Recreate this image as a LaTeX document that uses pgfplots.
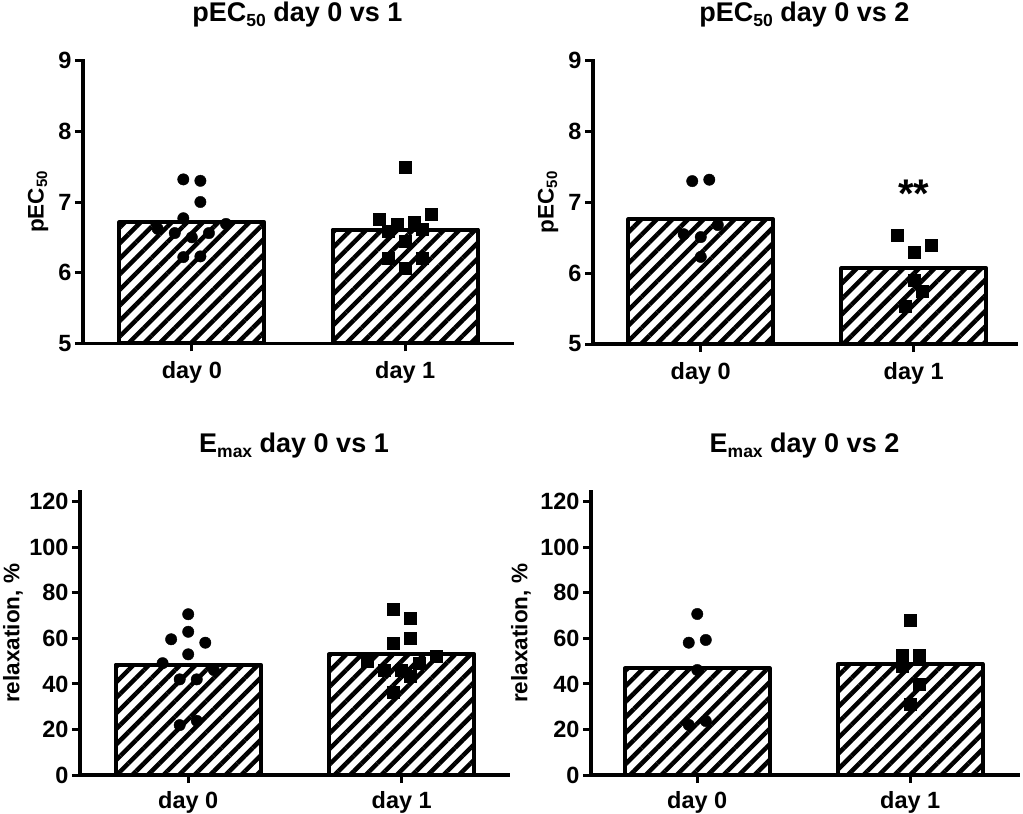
\documentclass[border=0pt]{standalone}
\usepackage{fontspec}
\setmainfont{Liberation Sans}
\usepackage{pgfplots}
\pgfplotsset{compat=1.18}
\usetikzlibrary{patterns.meta}

\newcommand{\lowsub}[3]{\raisebox{-#2}{\fontsize{#1}{#1}\selectfont #3}}

\pgfplotsset{
  panel/.style={
    scale only axis,
    axis lines=left,
    axis line style={-, line width=3.3pt, line cap=rect},
    tick style={line width=3pt, black},
    tick align=outside,
    major tick length=8pt,
    xtick={0,1},
    xticklabels={day 0, day 1},
    ticklabel style={font=\fontsize{23.5}{27}\selectfont\bfseries},
    /pgf/number format/assume math mode=true,
    every axis title/.style={font=\fontsize{27}{31}\selectfont\bfseries, at={(0.5,1)}, anchor=center, yshift=46pt},
    every axis y label/.style={at={(axis description cs:0,0.5)}, rotate=90, anchor=center,
      font=\fontsize{22.5}{26}\selectfont\bfseries},
  },
  hbar/.style={ybar, bar width=0.68, bar shift=0pt, draw=black, line width=4pt, line join=round,
    pattern={Lines[angle=45,distance=11pt,line width=4.5pt]}, pattern color=black},
  dots/.style={only marks, mark=*, mark size=5.7pt, black},
  sqs/.style={only marks, mark=square*, mark size=6pt, black},
}

\begin{document}
\begin{tikzpicture}[x=1pt,y=1pt]
\useasboundingbox (0,0) rectangle (1023,-814);

% ---------- top left ----------
\begin{axis}[panel, at={(83pt,-343.3pt)}, anchor=south west,
  width=429pt, height=282.6pt,
  xmin=-0.51, xmax=1.50, ymin=5, ymax=9, ytick={5,6,7,8,9},
  xticklabel style={yshift=-7pt},
  title={pEC\lowsub{17.5}{4.5pt}{50} day 0 vs 1},
  ylabel={pEC\lowsub{15}{3.5pt}{50}},
  ylabel style={yshift=45pt}]
\addplot[hbar] coordinates {(0,6.71) (1,6.61)};
\addplot[dots] coordinates {(-0.04,7.32) (0.04,7.30) (0.04,7.00) (-0.04,6.77) (-0.16,6.62)
  (-0.08,6.56) (0,6.50) (0.08,6.56) (0.16,6.69) (-0.04,6.22) (0.04,6.23)};
\addplot[sqs] coordinates {(1.00,7.49) (0.88,6.76) (0.96,6.69) (1.04,6.71) (1.12,6.83)
  (0.92,6.58) (1.08,6.61) (1.00,6.44) (0.92,6.21) (1.08,6.21) (1.00,6.06)};
\end{axis}

% ---------- top right ----------
\begin{axis}[panel, at={(593pt,-344pt)}, anchor=south west,
  width=423pt, height=283.3pt,
  xmin=-0.506, xmax=1.48, ymin=5, ymax=9, ytick={5,6,7,8,9},
  xticklabel style={yshift=-7pt},
  title={pEC\lowsub{17.5}{4.5pt}{50} day 0 vs 2},
  ylabel={pEC\lowsub{15}{3.5pt}{50}},
  ylabel style={yshift=45pt}]
\addplot[hbar] coordinates {(0,6.76) (1,6.07)};
\addplot[dots] coordinates {(-0.04,7.30) (0.04,7.32) (-0.08,6.55) (0,6.51) (0.08,6.68) (0,6.23)};
\addplot[sqs] coordinates {(0.92,6.54) (1.00,6.30) (1.08,6.40) (1.00,5.90) (1.04,5.75) (0.96,5.54)};
\node[anchor=base, font=\fontsize{40}{40}\selectfont\bfseries] at (axis cs:1,6.93) {**};
\end{axis}

% ---------- bottom left ----------
\begin{axis}[panel, at={(80pt,-775pt)}, anchor=south west,
  width=428pt, height=283.3pt,
  xmin=-0.507, xmax=1.498, ymin=0, ymax=124.4, ytick={0,20,...,120},
  xticklabel style={yshift=-5pt},
  title={E\lowsub{17.5}{4.5pt}{max} day 0 vs 1},
  ylabel={relaxation, \%},
  ylabel style={yshift=67pt}]
\addplot[hbar] coordinates {(0,48.4) (1,53.0)};
\addplot[dots] coordinates {(0,70.6) (-0.08,59.6) (0,62.9) (0.08,58.1) (0,53.0) (-0.12,49.1)
  (-0.04,42.0) (0.04,42.0) (0.12,46.1) (-0.04,21.9) (0.04,23.8)};
\addplot[sqs] coordinates {(0.96,72.7) (1.04,68.7) (0.96,57.8) (1.04,60.0) (1.16,52.0) (0.84,50.1)
  (0.92,46.2) (1.00,46.2) (1.08,49.1) (1.04,43.3) (0.96,36.5)};
\end{axis}

% ---------- bottom right ----------
\begin{axis}[panel, at={(591pt,-775pt)}, anchor=south west,
  width=427pt, height=283.3pt,
  xmin=-0.499, xmax=1.506, ymin=0, ymax=124.4, ytick={0,20,...,120},
  xticklabel style={yshift=-5pt},
  title={E\lowsub{17.5}{4.5pt}{max} day 0 vs 2},
  ylabel={relaxation, \%},
  ylabel style={yshift=70pt}]
\addplot[hbar] coordinates {(0,46.8) (1,48.7)};
\addplot[dots] coordinates {(0,70.7) (-0.04,58.1) (0.04,59.3) (0,46.1) (-0.04,22.0) (0.04,23.7)};
\addplot[sqs] coordinates {(1,68.1) (0.96,52.7) (1.04,52.7) (0.96,47.6) (1.04,39.8) (1,31.2)};
\end{axis}
\end{tikzpicture}
\end{document}
